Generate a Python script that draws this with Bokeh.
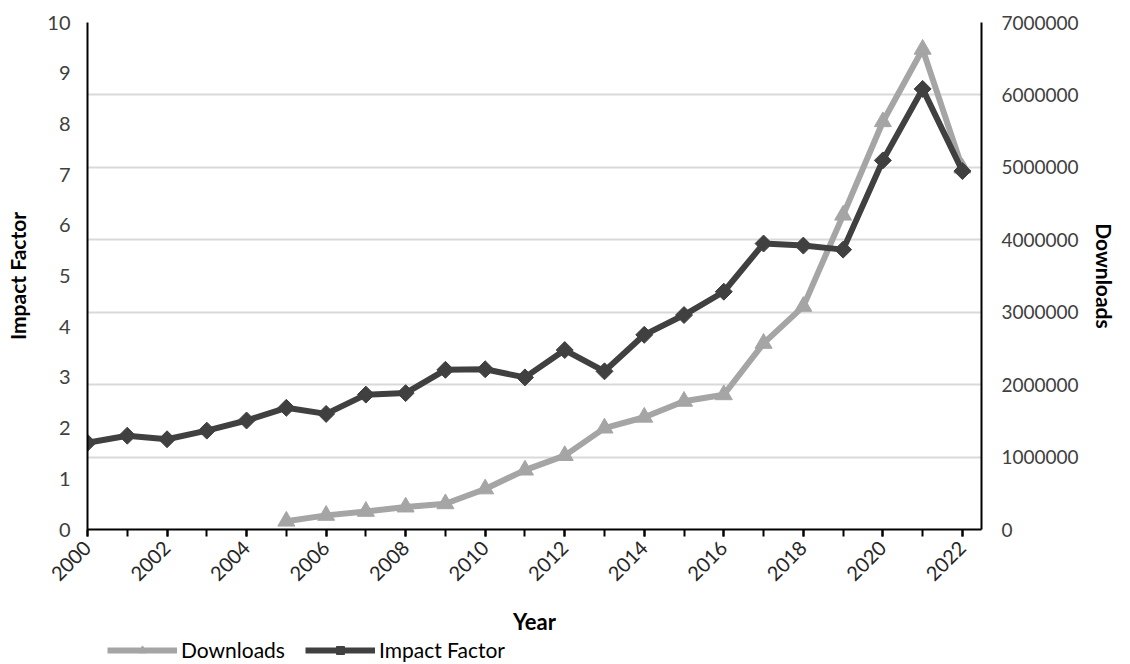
import math
from bokeh.plotting import figure
from bokeh.layouts import column
from bokeh.models import (Range1d, LinearAxis, FixedTicker, Grid, Legend, LegendItem,
                          NumeralTickFormatter)
from bokeh.embed import file_html
from bokeh.resources import INLINE

# ---- data ----
years = list(range(2000, 2023))
impact_factor = [1.71, 1.85, 1.78, 1.95, 2.15, 2.40, 2.28, 2.66, 2.69, 3.15, 3.16, 3.00,
                 3.54, 3.12, 3.84, 4.23, 4.69, 5.64, 5.60, 5.52, 7.28, 8.69, 7.07]
dl_years = list(range(2005, 2023))
downloads = [115000, 195000, 250000, 310000, 355000, 560000, 820000, 1020000, 1400000,
             1550000, 1770000, 1860000, 2570000, 3080000, 4340000, 5630000, 6630000, 4990000]
left_ticks = list(range(0, 11))
right_ticks = [0, 1000000, 2000000, 3000000, 4000000, 5000000, 6000000, 7000000]
x_label_years = list(range(2000, 2023, 2))
series_names = ["Downloads", "Impact Factor"]

FONT = "Lato"
IF_COLOR = "#404040"
DL_COLOR = "#a5a5a5"
W = 1128


def draw_series(fig):
    a = fig.line(dl_years, downloads, y_range_name="dl", line_color=DL_COLOR, line_width=6)
    b = fig.scatter(dl_years, downloads, y_range_name="dl", marker="triangle", size=17,
                    fill_color=DL_COLOR, line_color=DL_COLOR)
    c = fig.line(years, impact_factor, line_color=IF_COLOR, line_width=6)
    d = fig.scatter(years, impact_factor, marker="square", angle=math.pi / 4, size=12,
                    fill_color=IF_COLOR, line_color=IF_COLOR)
    return a, b, c, d


p = figure(width=W, height=638, x_range=Range1d(2000, 2022.48), y_range=Range1d(0, 10),
           output_backend="svg", toolbar_location=None,
           min_border_left=87, min_border_right=147, min_border_top=22, min_border_bottom=108)
p.outline_line_color = None
p.xgrid.visible = False
p.ygrid.visible = False
p.background_fill_color = "white"
p.border_fill_color = "white"

p.extra_y_ranges = {"dl": Range1d(0, 7000000)}

# gridlines follow the downloads axis
grid = Grid(dimension=1, ticker=FixedTicker(ticks=right_ticks), y_range_name="dl",
            grid_line_color="#d9d9d9", grid_line_width=2)
p.add_layout(grid)

# left axis
ya = p.yaxis[0]
ya.ticker = FixedTicker(ticks=left_ticks)
ya.axis_label = "Impact Factor"
ya.axis_line_color = "black"
ya.axis_line_width = 2
ya.major_tick_out = 0
ya.major_tick_in = 0
ya.minor_tick_out = 0
ya.minor_tick_in = 0
ya.major_label_text_font = FONT
ya.major_label_text_font_size = "20px"
ya.major_label_text_color = "#404040"
ya.major_label_standoff = 17
ya.axis_label_text_font = FONT
ya.axis_label_text_font_style = "bold"
ya.axis_label_text_font_size = "21px"
ya.axis_label_text_color = "black"
ya.axis_label_standoff = 14

# right axis
ra = LinearAxis(y_range_name="dl", ticker=FixedTicker(ticks=right_ticks),
                formatter=NumeralTickFormatter(format="0"), axis_label="Downloads")
ra.axis_line_color = "black"
ra.axis_line_width = 2
ra.major_tick_out = 0
ra.major_tick_in = 0
ra.minor_tick_out = 0
ra.minor_tick_in = 0
ra.major_label_text_font = FONT
ra.major_label_text_font_size = "19px"
ra.major_label_text_color = "#404040"
ra.major_label_standoff = 20
ra.axis_label_text_font = FONT
ra.axis_label_text_font_style = "bold"
ra.axis_label_text_font_size = "21px"
ra.axis_label_text_color = "black"
ra.axis_label_standoff = 10
p.add_layout(ra, "right")

# bottom axis
xa = p.xaxis[0]
xa.ticker = FixedTicker(ticks=x_label_years, minor_ticks=years)
xa.axis_label = "Year"
xa.axis_line_color = "black"
xa.axis_line_width = 2
xa.major_tick_out = 7
xa.major_tick_in = 0
xa.minor_tick_out = 7
xa.minor_tick_in = 0
xa.major_tick_line_width = 2
xa.minor_tick_line_width = 2
xa.major_tick_line_color = "black"
xa.minor_tick_line_color = "black"
xa.major_label_orientation = math.pi / 4
xa.major_label_text_font = FONT
xa.major_label_text_font_size = "20px"
xa.major_label_text_color = "#262626"
xa.major_label_standoff = 8
xa.axis_label_text_font = FONT
xa.axis_label_text_font_style = "bold"
xa.axis_label_text_font_size = "22px"
xa.axis_label_text_color = "black"
xa.axis_label_standoff = 18

draw_series(p)

# legend strip beneath the chart: same series, drawn outside its view so only the keys show
lf = figure(width=W, height=26, x_range=Range1d(0, 1), y_range=Range1d(0, 1),
            output_backend="svg", toolbar_location=None, x_axis_type=None, y_axis_type=None,
            min_border_left=0, min_border_right=0, min_border_top=0, min_border_bottom=0)
lf.outline_line_color = None
lf.xgrid.visible = False
lf.ygrid.visible = False
lf.extra_y_ranges = {"dl": Range1d(0, 1)}
k1, k2, k3, k4 = draw_series(lf)

legend = Legend(items=[LegendItem(label=series_names[0], renderers=[k1, k2]),
                       LegendItem(label=series_names[1], renderers=[k3, k4])],
                orientation="horizontal", location=(19, 1))
legend.glyph_width = 70
legend.glyph_height = 20
legend.label_standoff = 4
legend.label_height = 20
legend.spacing = 20
legend.padding = 1
legend.margin = 0
legend.border_line_alpha = 0
legend.background_fill_alpha = 0
legend.label_text_font = FONT
legend.label_text_font_size = "21px"
legend.label_text_color = "black"
lf.add_layout(legend, "center")

layout = column(p, lf, spacing=0)
open("out.html", "w").write(file_html(layout, INLINE))
